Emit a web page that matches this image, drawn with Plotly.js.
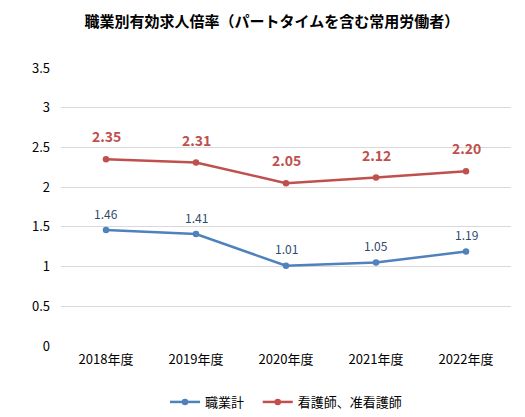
<!DOCTYPE html>
<html>
<head>
<meta charset="utf-8">
<script src="https://cdn.plot.ly/plotly-3.0.1.min.js"></script>
<style>body{margin:0;background:#fff}#chart{width:525px;height:417px}</style>
</head>
<body>
<div id="chart"></div>
<script>
var years = ['2018年度', '2019年度', '2020年度', '2021年度', '2022年度'];
var allJobs = [1.46, 1.41, 1.01, 1.05, 1.19];
var nurses = [2.35, 2.31, 2.05, 2.12, 2.20];
var yTicks = [0, 0.5, 1, 1.5, 2, 2.5, 3, 3.5];

var font = '"Noto Sans CJK JP", "Noto Sans", sans-serif';

var traceAll = {
  x: years,
  y: allJobs,
  name: '職業計\u00a0\u00a0\u00a0',
  type: 'scatter',
  mode: 'lines+markers',
  line: {color: '#4F81BD', width: 2.5},
  marker: {color: '#4F81BD', size: 6.5}
};

var traceNurse = {
  x: years,
  y: nurses,
  name: '看護師、准看護師',
  type: 'scatter',
  mode: 'lines+markers',
  line: {color: '#C0504D', width: 2.5},
  marker: {color: '#C0504D', size: 6.5}
};

// value labels above the points
var labels = [];
years.forEach((yr, i) => {
  labels.push({
    x: yr, y: allJobs[i], text: allJobs[i].toFixed(2),
    showarrow: false, yshift: 17,
    font: {color: '#2E4A6B', size: 12, family: font}
  });
  labels.push({
    x: yr, y: nurses[i], text: '<b>' + nurses[i].toFixed(2) + '</b>',
    showarrow: false, yshift: 23,
    font: {color: '#C0504D', size: 14, family: font}
  });
});

var layout = {
  width: 525,
  height: 417,
  margin: {l: 61, r: 14, t: 68, b: 71},
  paper_bgcolor: '#fff',
  plot_bgcolor: '#fff',
  font: {family: font, color: '#000', size: 13},
  title: {
    text: '<b>職業別有効求人倍率（パートタイムを含む常用労働者）</b>',
    font: {size: 15, family: font, color: '#000'},
    x: 0.518,
    xanchor: 'center',
    y: 0.947,
    yanchor: 'middle'
  },
  xaxis: {
    type: 'category',
    range: [-0.5, 4.5],
    showgrid: false,
    zeroline: false,
    showline: false,
    ticks: '',
    ticklabelstandoff: 4,
    tickfont: {size: 13}
  },
  yaxis: {
    range: [0, 3.5],
    tickvals: yTicks,
    ticktext: yTicks.map(String),
    showgrid: true,
    gridcolor: '#D9D9D9',
    zeroline: false,
    showline: false,
    ticks: '',
    ticklabelstandoff: 10,
    tickfont: {size: 13}
  },
  annotations: labels,
  showlegend: true,
  legend: {
    orientation: 'h',
    x: 0.5,
    xanchor: 'center',
    y: 0.036,
    yanchor: 'middle',
    yref: 'container',
    font: {size: 13},
    traceorder: 'normal'
  }
};

Plotly.newPlot('chart', [traceAll, traceNurse], layout, {displayModeBar: false});
</script>
</body>
</html>
